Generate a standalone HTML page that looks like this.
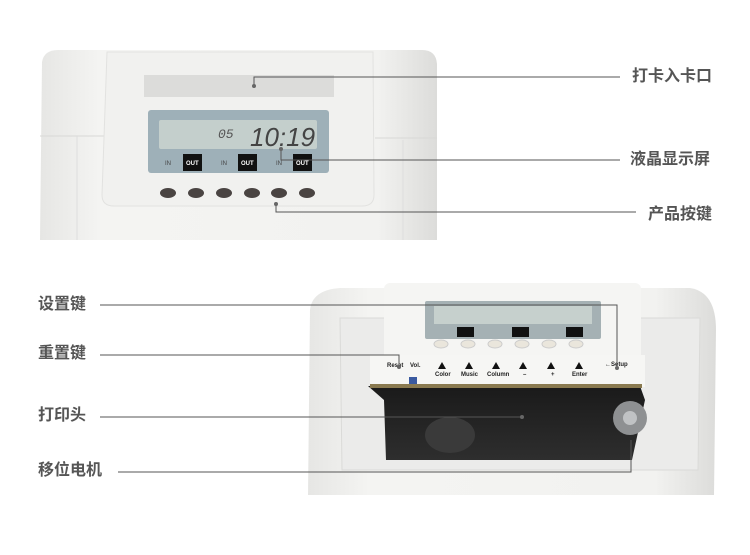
<!DOCTYPE html>
<html><head><meta charset="utf-8"><style>
body{margin:0;background:#fff;width:750px;height:555px;overflow:hidden;position:relative;font-family:"Liberation Sans","Noto Sans CJK SC",sans-serif}
.l{position:absolute;font-size:16px;font-weight:bold;color:#555;line-height:20px;white-space:nowrap}
</style></head><body>
<svg width="750" height="555" style="position:absolute;left:0;top:0">
<defs>
<linearGradient id="bd" x1="0" x2="1"><stop offset="0" stop-color="#e6e6e4"/><stop offset="0.15" stop-color="#f4f4f2"/><stop offset="0.85" stop-color="#f2f2f0"/><stop offset="1" stop-color="#dcdcda"/></linearGradient>
<linearGradient id="dk" x1="0" y1="0" x2="0" y2="1"><stop offset="0" stop-color="#1a1a1a"/><stop offset="1" stop-color="#2e2e2e"/></linearGradient>
</defs>
<!-- top device -->
<path d="M40,240 L42,62 Q44,50 58,50 L422,50 Q436,50 437,64 L437,240 Z" fill="url(#bd)"/>
<line x1="40" y1="136" x2="105" y2="136" stroke="#d8d8d6"/><line x1="375" y1="138" x2="437" y2="138" stroke="#d8d8d6"/>
<line x1="77" y1="136" x2="77" y2="240" stroke="#ddd"/><line x1="403" y1="140" x2="403" y2="240" stroke="#ddd"/>
<path d="M107,52 L373,52 L374,195 Q374,206 362,206 L114,206 Q102,206 102,195 Z" fill="#f1f1ef" stroke="#e2e2e0"/>
<rect x="144" y="75" width="190" height="22" fill="#dcdcda"/>
<rect x="148" y="110" width="181" height="63" rx="3" fill="#9eb0b8"/>
<rect x="159" y="120" width="158" height="29" rx="2" fill="#c4cfcc"/>
<text x="218" y="138" font-size="13" fill="#555" font-style="italic" font-family="Liberation Mono,monospace">05</text>
<text x="250" y="146" font-size="26" fill="#444" font-style="italic" font-family="Liberation Sans,sans-serif">10:19</text>
<g fill="#111"><rect x="183" y="154" width="19" height="17"/><rect x="238" y="154" width="19" height="17"/><rect x="293" y="154" width="19" height="17"/></g>
<g fill="#fff" font-size="6" font-weight="bold"><text x="186" y="165">OUT</text><text x="241" y="165">OUT</text><text x="296" y="165">OUT</text></g>
<g fill="#444" font-size="6"><text x="165" y="165">IN</text><text x="221" y="165">IN</text><text x="276" y="165">IN</text></g>
<g fill="#4a4442"><ellipse cx="168" cy="193" rx="8" ry="5"/><ellipse cx="196" cy="193" rx="8" ry="5"/><ellipse cx="224" cy="193" rx="8" ry="5"/><ellipse cx="252" cy="193" rx="8" ry="5"/><ellipse cx="279" cy="193" rx="8" ry="5"/><ellipse cx="307" cy="193" rx="8" ry="5"/></g>
<!-- bottom device -->
<path d="M308,495 L310,310 Q312,290 340,288 L690,288 Q716,292 716,330 L714,495 Z" fill="url(#bd)"/>
<path d="M340,318 L700,318 L698,470 L342,470 Z" fill="#ebebea" stroke="#dadad8"/>
<rect x="384" y="283" width="257" height="90" rx="6" fill="#f5f5f3"/>
<rect x="425" y="301" width="176" height="38" rx="2" fill="#a5b1b4"/>
<rect x="434" y="306" width="158" height="18" fill="#c6d0cd"/>
<g fill="#111"><rect x="457" y="327" width="17" height="10"/><rect x="512" y="327" width="17" height="10"/><rect x="566" y="327" width="17" height="10"/></g>
<g fill="#eae6dc" stroke="#ccc"><ellipse cx="441" cy="344" rx="7" ry="4"/><ellipse cx="468" cy="344" rx="7" ry="4"/><ellipse cx="495" cy="344" rx="7" ry="4"/><ellipse cx="522" cy="344" rx="7" ry="4"/><ellipse cx="549" cy="344" rx="7" ry="4"/><ellipse cx="576" cy="344" rx="7" ry="4"/></g>
<rect x="370" y="355" width="275" height="32" fill="#f6f6f4"/>
<g font-size="6" fill="#222" font-weight="bold"><text x="387" y="367">Reset</text><text x="410" y="367">Vol.</text><text x="435" y="376">Color</text><text x="461" y="376">Music</text><text x="487" y="376">Column</text><text x="523" y="376">–</text><text x="551" y="376">+</text><text x="572" y="376">Enter</text><text x="605" y="366">←Setup</text></g>
<g fill="#111"><path d="M438,369 l4,-7 l4,7z"/><path d="M465,369 l4,-7 l4,7z"/><path d="M492,369 l4,-7 l4,7z"/><path d="M519,369 l4,-7 l4,7z"/><path d="M547,369 l4,-7 l4,7z"/><path d="M575,369 l4,-7 l4,7z"/></g>
<rect x="409" y="377" width="8" height="9" fill="#3a5aa0"/>
<path d="M368,386 L640,386 L645,400 L632,460 L386,460 L384,400 Z" fill="url(#dk)"/>
<rect x="370" y="384" width="272" height="4" fill="#8a7a50"/>
<circle cx="630" cy="418" r="17" fill="#8e9092"/><circle cx="630" cy="418" r="7" fill="#c0c2c4"/>
<ellipse cx="450" cy="435" rx="25" ry="18" fill="#3a3a3a"/>
<!-- callout lines -->
<g stroke="#555" stroke-width="1" fill="none">
<polyline points="254,86 254,77 620,77"/>
<polyline points="281,149 281,160 620,160"/>
<polyline points="276,204 276,212 636,212"/>
<polyline points="100,305 617,305 617,368"/>
<polyline points="100,355 399,355 399,367"/>
<polyline points="100,417 522,417"/>
<polyline points="118,472 631,472 631,440"/>
</g>
<g fill="#666"><circle cx="254" cy="86" r="2"/><circle cx="281" cy="149" r="2"/><circle cx="276" cy="204" r="2"/><circle cx="522" cy="417" r="2"/><circle cx="399" cy="367" r="2"/><circle cx="617" cy="368" r="2"/></g>
</svg>
<div class="l" style="left:632px;top:67px">打卡入卡口</div>
<div class="l" style="left:630px;top:150px">液晶显示屏</div>
<div class="l" style="left:648px;top:205px">产品按键</div>
<div class="l" style="left:38px;top:295px">设置键</div>
<div class="l" style="left:38px;top:344px">重置键</div>
<div class="l" style="left:38px;top:406px">打印头</div>
<div class="l" style="left:38px;top:461px">移位电机</div>
</body></html>
